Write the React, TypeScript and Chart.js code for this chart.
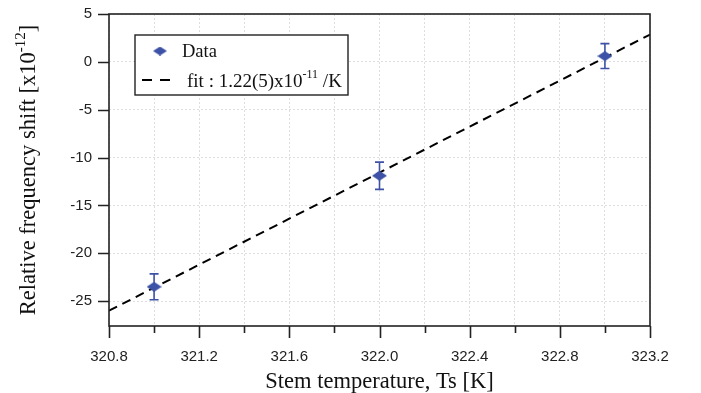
import React, { useEffect, useRef } from 'react';
import { Chart, registerables } from 'chart.js';

Chart.register(...registerables);

// ---- data ----
const temps = [321.0, 322.0, 323.0];
const shifts = [-23.5, -11.9, 0.6];
const errors = [1.35, 1.42, 1.3];
const fitX = [320.8, 323.2];
const fitY = [-26.0, 2.85];
const xTicks = [320.8, 321.0, 321.2, 321.4, 321.6, 321.8, 322.0, 322.2, 322.4, 322.6, 322.8, 323.0, 323.2];
const xLabelTicks = [320.8, 321.2, 321.6, 322.0, 322.4, 322.8, 323.2];
const yTicks = [5, 0, -5, -10, -15, -20, -25];
const xMin = 320.8;
const xMax = 323.2;
const yMin = -27.6;
const yMax = 5;

const BLUE = '#3d52a6';
const AXIS = '#222222';
const SERIF = "'Liberation Serif', 'Times New Roman', serif";
const SANS = "'Liberation Sans', Arial, sans-serif";

const isLabel = (v: number) => xLabelTicks.some((t) => Math.abs(t - v) < 1e-6);

function makeDiamond(w: number, h: number) {
  const c = document.createElement('canvas');
  c.width = w;
  c.height = h;
  const g = c.getContext('2d')!;
  g.fillStyle = BLUE;
  g.beginPath();
  g.moveTo(w / 2, 0);
  g.lineTo(w, h / 2);
  g.lineTo(w / 2, h);
  g.lineTo(0, h / 2);
  g.closePath();
  g.fill();
  return c;
}

type Part = { t: string; sup?: boolean };

function drawParts(ctx: CanvasRenderingContext2D, parts: Part[], x: number, y: number, size: number, align: 'left' | 'center') {
  const supSize = Math.round(size * 0.65);
  const widths = parts.map((p) => {
    ctx.font = `${p.sup ? supSize : size}px ${SERIF}`;
    return ctx.measureText(p.t).width;
  });
  const total = widths.reduce((a, b) => a + b, 0);
  let cx = align === 'center' ? x - total / 2 : x;
  ctx.textAlign = 'left';
  ctx.textBaseline = 'alphabetic';
  parts.forEach((p, i) => {
    ctx.font = `${p.sup ? supSize : size}px ${SERIF}`;
    ctx.fillText(p.t, cx, p.sup ? y - size * 0.45 : y);
    cx += widths[i];
  });
}

const decorPlugin = {
  id: 'decor',
  beforeDatasetsDraw(chart: any) {
    const ctx: CanvasRenderingContext2D = chart.ctx;
    const xs = chart.scales.x;
    const ys = chart.scales.y;
    ctx.save();
    ctx.strokeStyle = BLUE;
    ctx.lineWidth = 1.6;
    temps.forEach((t, i) => {
      const px = xs.getPixelForValue(t);
      const top = ys.getPixelForValue(shifts[i] + errors[i]);
      const bot = ys.getPixelForValue(shifts[i] - errors[i]);
      ctx.beginPath();
      ctx.moveTo(px, top);
      ctx.lineTo(px, bot);
      ctx.moveTo(px - 4.5, top);
      ctx.lineTo(px + 4.5, top);
      ctx.moveTo(px - 4.5, bot);
      ctx.lineTo(px + 4.5, bot);
      ctx.stroke();
    });
    ctx.restore();
  },
  afterDraw(chart: any) {
    const ctx: CanvasRenderingContext2D = chart.ctx;
    const a = chart.chartArea;
    const xs = chart.scales.x;
    const ys = chart.scales.y;
    ctx.save();
    // frame
    ctx.strokeStyle = AXIS;
    ctx.lineWidth = 1.6;
    ctx.setLineDash([]);
    ctx.strokeRect(a.left, a.top, a.right - a.left, a.bottom - a.top);
    // ticks
    ctx.beginPath();
    xTicks.forEach((v) => {
      const px = Math.round(xs.getPixelForValue(v)) + 0.5;
      ctx.moveTo(px, a.bottom);
      ctx.lineTo(px, a.bottom + (isLabel(v) ? 12 : 7));
    });
    yTicks.forEach((v) => {
      const py = Math.round(ys.getPixelForValue(v)) + 0.5;
      ctx.moveTo(a.left, py);
      ctx.lineTo(a.left - 11, py);
    });
    ctx.stroke();

    // axis titles
    ctx.fillStyle = '#111';
    drawParts(ctx, [{ t: 'Stem temperature, Ts [K]' }], (a.left + a.right) / 2, 388, 22.5, 'center');
    ctx.save();
    ctx.translate(35, (a.top + a.bottom) / 2);
    ctx.rotate(-Math.PI / 2);
    drawParts(
      ctx,
      [{ t: 'Relative frequency shift [x10' }, { t: '-12', sup: true }, { t: ']' }],
      0,
      0,
      22.5,
      'center'
    );
    ctx.restore();

    // legend
    const lx = 135, ly = 35, lw = 213, lh = 60;
    ctx.fillStyle = '#fff';
    ctx.fillRect(lx, ly, lw, lh);
    ctx.strokeStyle = AXIS;
    ctx.lineWidth = 1.4;
    ctx.strokeRect(lx, ly, lw, lh);
    const d = makeDiamond(14, 9);
    ctx.drawImage(d, 160 - 7, 51 - 4.5);
    ctx.fillStyle = '#111';
    drawParts(ctx, [{ t: 'Data' }], 182, 57, 18.5, 'left');
    ctx.strokeStyle = '#000';
    ctx.lineWidth = 2;
    ctx.setLineDash([10, 8]);
    ctx.beginPath();
    ctx.moveTo(142, 80);
    ctx.lineTo(175, 80);
    ctx.stroke();
    ctx.setLineDash([]);
    drawParts(ctx, [{ t: 'fit : 1.22(5)x10' }, { t: '-11', sup: true }, { t: ' /K' }], 187, 87, 19, 'left');
    ctx.restore();
  },
};

export default function App() {
  const ref = useRef<HTMLCanvasElement>(null);
  useEffect(() => {
    document.body.style.margin = '0';
    const canvas = ref.current!;
    const marker = makeDiamond(15, 10);
    const chart = new Chart(canvas, {
      type: 'scatter',
      data: {
        datasets: [
          {
            label: 'Data',
            data: temps.map((x, i) => ({ x, y: shifts[i] })),
            pointStyle: marker as any,
            pointRadius: 7,
            backgroundColor: BLUE,
            borderColor: BLUE,
            showLine: false,
            order: 0,
          },
          {
            label: 'fit',
            type: 'line',
            data: fitX.map((x, i) => ({ x, y: fitY[i] })),
            borderColor: '#000',
            borderWidth: 2,
            borderDash: [9, 6],
            pointRadius: 0,
            fill: false,
            order: 1,
          } as any,
        ],
      },
      options: {
        responsive: false,
        animation: false,
        layout: { padding: { left: 0, right: 51, top: 14, bottom: 0 } },
        plugins: { legend: { display: false }, tooltip: { enabled: false } },
        scales: {
          x: {
            type: 'linear',
            min: xMin,
            max: xMax,
            afterBuildTicks: (s: any) => {
              s.ticks = xTicks.map((v) => ({ value: v }));
            },
            afterFit: (s: any) => {
              s.height = 67;
              s.paddingLeft = 0;
              s.paddingRight = 0;
            },
            ticks: {
              autoSkip: false,
              maxRotation: 0,
              padding: 22,
              color: AXIS,
              font: { family: SANS, size: 15 },
              callback: (v: any) => (isLabel(Number(v)) ? Number(v).toFixed(1) : ''),
            },
            grid: { color: '#dedede', lineWidth: 1, drawTicks: false },
            border: { display: false, dash: [2, 2] },
          },
          y: {
            type: 'linear',
            min: yMin,
            max: yMax,
            afterBuildTicks: (s: any) => {
              s.ticks = yTicks.map((v) => ({ value: v }));
            },
            afterFit: (s: any) => {
              s.width = 109;
              s.paddingTop = 0;
              s.paddingBottom = 0;
            },
            ticks: {
              padding: 17,
              color: AXIS,
              font: { family: SANS, size: 15 },
              callback: (v: any) => String(v),
            },
            grid: { color: '#dedede', lineWidth: 1, drawTicks: false },
            border: { display: false, dash: [2, 2] },
          },
        },
      },
      plugins: [decorPlugin],
    });
    return () => chart.destroy();
  }, []);
  return <canvas ref={ref} width={701} height={393} style={{ display: 'block' }} />;
}
